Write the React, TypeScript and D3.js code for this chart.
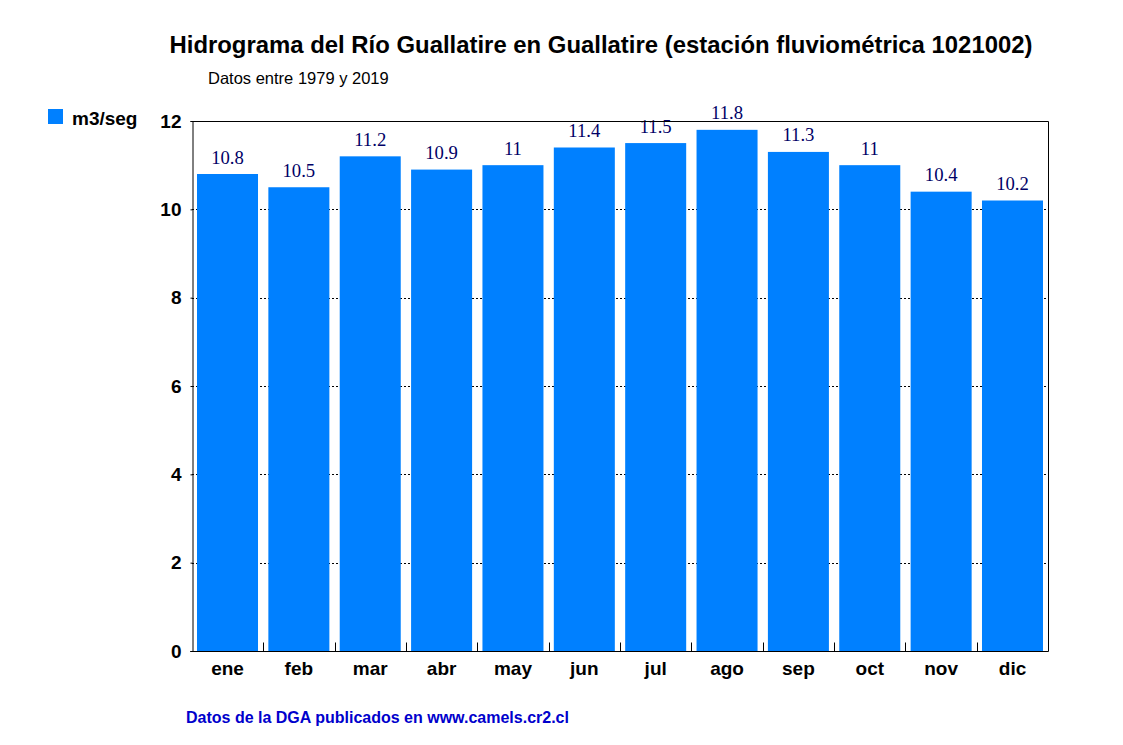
import * as d3 from 'd3';
import { useEffect, useRef } from 'react';

const months = ['ene', 'feb', 'mar', 'abr', 'may', 'jun', 'jul', 'ago', 'sep', 'oct', 'nov', 'dic'];
const flows = [10.8, 10.5, 11.2, 10.9, 11, 11.4, 11.5, 11.8, 11.3, 11, 10.4, 10.2];
const yTicks = [0, 2, 4, 6, 8, 10, 12];
const gridTicks = [2, 4, 6, 8, 10];

const title = 'Hidrograma del Río Guallatire en Guallatire (estación fluviométrica 1021002)';
const subtitle = 'Datos entre 1979 y 2019';
const seriesName = 'm3/seg';
const footer = 'Datos de la DGA publicados en www.camels.cr2.cl';

export default function App() {
  const ref = useRef<SVGSVGElement | null>(null);

  useEffect(() => {
    const svg = d3.select(ref.current);
    const width = 1123;
    const height = 745;
    const margin = { top: 121, right: 75, bottom: 94, left: 192 };
    const sans = 'Liberation Sans, Arial, sans-serif';

    svg.selectAll('*').remove();
    svg.attr('width', width).attr('height', height);

    const x = d3.scaleBand<string>()
      .domain(months)
      .range([margin.left, width - margin.right])
      .paddingInner(0.145)
      .paddingOuter(0.07);

    const y = d3.scaleLinear()
      .domain([0, 12])
      .range([height - margin.bottom, margin.top]);

    // gridlines
    svg.append('g')
      .selectAll('line')
      .data(gridTicks)
      .join('line')
      .attr('x1', margin.left)
      .attr('x2', width - margin.right)
      .attr('y1', d => Math.round(y(d)) + 0.5)
      .attr('y2', d => Math.round(y(d)) + 0.5)
      .attr('stroke', '#000')
      .attr('stroke-dasharray', '2,2');

    // bars
    svg.append('g')
      .selectAll('rect')
      .data(flows)
      .join('rect')
      .attr('x', (_, i) => x(months[i])!)
      .attr('width', x.bandwidth())
      .attr('y', d => y(d))
      .attr('height', d => y(0) - y(d))
      .attr('fill', '#0080FF');

    // value labels
    svg.append('g')
      .selectAll('text')
      .data(flows)
      .join('text')
      .attr('x', (_, i) => x(months[i])! + x.bandwidth() / 2)
      .attr('y', d => y(d) - 10.5)
      .attr('text-anchor', 'middle')
      .attr('font-family', 'Liberation Serif, Times New Roman, serif')
      .attr('font-size', 18.7)
      .attr('fill', '#000066')
      .text(d => String(d));

    // frame: top and right border
    const x0 = margin.left + 0.5;
    const x1 = width - margin.right + 0.5;
    const yTop = margin.top + 0.5;
    const yBot = height - margin.bottom + 0.5;
    svg.append('path')
      .attr('d', `M${x0},${yTop}H${x1}V${yBot}`)
      .attr('fill', 'none')
      .attr('stroke', '#000');

    // y axis
    const yAxis = svg.append('g')
      .attr('transform', `translate(${x0},0)`)
      .call(d3.axisLeft(y).tickValues(yTicks).tickSize(2).tickPadding(9).tickFormat(d3.format('d')));
    yAxis.select('.domain').attr('stroke', '#000');
    yAxis.selectAll('text')
      .attr('font-family', sans)
      .attr('font-size', 19)
      .attr('font-weight', 'bold')
      .attr('fill', '#000');

    // x axis
    const xAxis = svg.append('g')
      .attr('transform', `translate(0,${yBot})`)
      .call(d3.axisBottom(x).tickSize(0).tickPadding(10));
    xAxis.select('.domain').attr('d', `M${x0 - 2},0H${x1}`).attr('stroke', '#000');
    xAxis.selectAll('text')
      .attr('font-family', sans)
      .attr('font-size', 19)
      .attr('font-weight', 'bold')
      .attr('fill', '#000');

    // band separators (inner ticks)
    const step = x.step();
    svg.append('g')
      .selectAll('line')
      .data(months.slice(1))
      .join('line')
      .attr('x1', d => Math.round(x(d)! - (step - x.bandwidth()) / 2) + 0.5)
      .attr('x2', d => Math.round(x(d)! - (step - x.bandwidth()) / 2) + 0.5)
      .attr('y1', yBot)
      .attr('y2', yBot - 9)
      .attr('stroke', '#000');

    // titles
    svg.append('text')
      .attr('x', 601)
      .attr('y', 53)
      .attr('text-anchor', 'middle')
      .attr('font-family', sans)
      .attr('font-size', 23.9)
      .attr('font-weight', 'bold')
      .text(title);

    svg.append('text')
      .attr('x', 208)
      .attr('y', 83.5)
      .attr('font-family', sans)
      .attr('font-size', 16.5)
      .text(subtitle);

    // legend
    svg.append('rect')
      .attr('x', 48)
      .attr('y', 109)
      .attr('width', 15)
      .attr('height', 15)
      .attr('fill', '#0080FF');
    svg.append('text')
      .attr('x', 72)
      .attr('y', 125)
      .attr('font-family', sans)
      .attr('font-size', 19)
      .attr('font-weight', 'bold')
      .text(seriesName);

    // footer
    svg.append('text')
      .attr('x', 186)
      .attr('y', 723)
      .attr('font-family', sans)
      .attr('font-size', 16)
      .attr('font-weight', 'bold')
      .attr('fill', '#0000CC')
      .text(footer);
  }, []);

  return (
    <div style={{ position: 'absolute', left: 0, top: 0, background: '#fff' }}>
      <svg ref={ref}></svg>
    </div>
  );
}
